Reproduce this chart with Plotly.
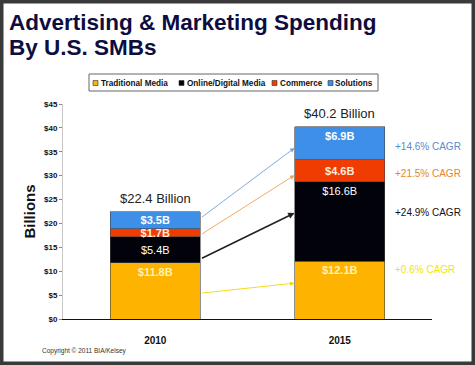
import plotly.graph_objects as go

# ---- data ----
years = ["2010", "2015"]
traditional = [11.8, 12.1]
online = [5.4, 16.6]
commerce = [1.7, 4.6]
solutions = [3.5, 6.9]
totals = [22.4, 40.2]
series_names = ["Traditional Media", "Online/Digital Media", "Commerce", "Solutions"]
cagr_labels = ["+0.6% CAGR", "+24.9% CAGR", "+21.5% CAGR", "+14.6% CAGR"]
y_ticks = [0, 5, 10, 15, 20, 25, 30, 35, 40, 45]

colors = ["#FDB300", "#02020A", "#F03C00", "#3D8FE8"]
label_colors = ["#FFF4B0", "#FFFFFF", "#FFE8DC", "#FFFFFF"]
label_bold = [True, False, True, True]
cagr_colors = ["#F2E600", "#111111", "#E8842A", "#5A8BCB"]
arrow_colors = ["#F5D800", "#222222", "#F0A050", "#6FA0E0"]
# where each label sits inside its segment: [2010, 2015]
label_anchor = [["end", "end"], ["middle", "end"], ["middle", "middle"], ["middle", "end"]]

# ---- layout geometry (pixels) ----
FW, FH = 475, 365
L, R, T, B = 63, 432, 104, 319
W, H = R - L, B - T


def px(x):
    return (x - L) / W


def py(y):
    return (B - y) / H


FONT = "Liberation Sans, Arial, sans-serif"

fig = go.Figure()
series = [traditional, online, commerce, solutions]
for i, (name, vals) in enumerate(zip(series_names, series)):
    for j, yr in enumerate(years):
        lab = "$%.1fB" % vals[j]
        if label_bold[i]:
            lab = "<b>%s</b>" % lab
        fig.add_trace(go.Bar(
            x=[yr], y=[vals[j]], name=name, legendgroup=name,
            marker=dict(color=colors[i], line=dict(color="#444444", width=0.6)),
            width=0.49,
            text=[lab],
            textposition="inside",
            insidetextanchor=label_anchor[i][j],
            textfont=dict(family=FONT, size=11, color=label_colors[i]),
            showlegend=False,
            hoverinfo="skip",
        ))

annotations = []
# totals
for yr_i, tot in enumerate(totals):
    annotations.append(dict(
        x=yr_i, y=tot, xref="x", yref="y", text="$%.1f Billion" % tot,
        showarrow=False, yanchor="bottom", yshift=4,
        font=dict(family=FONT, size=13, color="#222222"),
    ))

# arrows (2010 segment -> 2015 segment)
x0 = 0 + 0.245
x1 = 1 - 0.245
arrow_y = [(5.4, 7.5), (12.55, 22.2), (17.6, 30.1), (21.1, 35.8)]
for i, (ya, yb) in enumerate(arrow_y):
    annotations.append(dict(
        x=x1, y=yb, ax=x0, ay=ya, xref="x", yref="y", axref="x", ayref="y",
        text="", showarrow=True, arrowhead=2, arrowsize=1 if i != 1 else 0.8,
        arrowwidth=1.6 if i == 1 else 0.9, arrowcolor=arrow_colors[i], standoff=0,
    ))

# CAGR labels
cagr_y = [10.3, 22.3, 30.5, 36.1]
for i, lab in enumerate(cagr_labels):
    annotations.append(dict(
        x=1.29, y=cagr_y[i], xref="x", yref="y", text=lab, showarrow=False,
        xanchor="left", yanchor="middle",
        font=dict(family=FONT, size=10, color=cagr_colors[i]),
    ))

# title
annotations.append(dict(
    x=px(7), y=py(23), xref="paper", yref="paper", xanchor="left", yanchor="middle",
    text="<b>Advertising &amp; Marketing Spending</b>", showarrow=False,
    font=dict(family=FONT, size=22.5, color="#0D0D40"),
))
annotations.append(dict(
    x=px(7), y=py(48), xref="paper", yref="paper", xanchor="left", yanchor="middle",
    text="<b>By U.S. SMBs</b>", showarrow=False,
    font=dict(family=FONT, size=22.5, color="#0D0D40"),
))

# legend (manual, compact)
legend_sq_x = [93, 179, 272, 328]
legend_tx_x = [98.5, 184.5, 277.5, 332.5]
shapes = []
shapes.append(dict(type="rect", xref="paper", yref="paper",
                   x0=px(89), x1=px(378), y0=py(91), y1=py(74),
                   line=dict(color="#666666", width=1), fillcolor="white", layer="below"))
for i, name in enumerate(series_names):
    shapes.append(dict(type="rect", xref="paper", yref="paper",
                       x0=px(legend_sq_x[i]), x1=px(legend_sq_x[i] + 5),
                       y0=py(85.5), y1=py(80.5),
                       line=dict(color="#333333", width=0.6), fillcolor=colors[i]))
    annotations.append(dict(
        x=px(legend_tx_x[i]), y=py(83), xref="paper", yref="paper",
        xanchor="left", yanchor="middle", text="<b>%s</b>" % name, showarrow=False,
        font=dict(family=FONT, size=8.2, color="#111111"),
    ))

# copyright
annotations.append(dict(
    x=px(40), y=py(351), xref="paper", yref="paper", xanchor="left", yanchor="middle",
    text="Copyright \u00a9 2011 BIA/Kelsey", showarrow=False,
    font=dict(family=FONT, size=6.5, color="#333333"),
))

# outer dark frame
shapes.append(dict(type="rect", xref="paper", yref="paper",
                   x0=px(0), x1=px(FW), y0=py(FH), y1=py(0),
                   line=dict(color="#3A3A3A", width=7), fillcolor="rgba(0,0,0,0)"))

fig.update_layout(
    width=FW, height=FH,
    margin=dict(l=L, r=FW - R, t=T, b=FH - B, pad=0),
    barmode="stack",
    paper_bgcolor="white", plot_bgcolor="white",
    uniformtext=dict(minsize=11, mode="show"),
    xaxis=dict(
        type="category", range=[-0.5, 1.5],
        showline=True, linecolor="#111111", linewidth=1,
        ticks="", ticklabelstandoff=12,
        tickfont=dict(family=FONT, size=10, color="#111111", weight="bold"),
        showgrid=False, zeroline=False, fixedrange=True,
    ),
    yaxis=dict(
        range=[0, 45], tickvals=y_ticks, ticktext=["$%d" % v for v in y_ticks],
        showline=True, linecolor="#C8C8C8", linewidth=1,
        ticks="outside", ticklen=3, tickcolor="#888888",
        tickfont=dict(family=FONT, size=8, color="#111111", weight="bold"),
        showgrid=False, zeroline=False,
        title=dict(text="<b>Billions</b>", standoff=4,
                   font=dict(family=FONT, size=15, color="#111111")),
    ),
    annotations=annotations,
    shapes=shapes,
)

fig.write_html(
    "out.html",
    config={"displayModeBar": False},
    post_script="document.body.style.margin='0';document.body.style.padding='0';",
)
